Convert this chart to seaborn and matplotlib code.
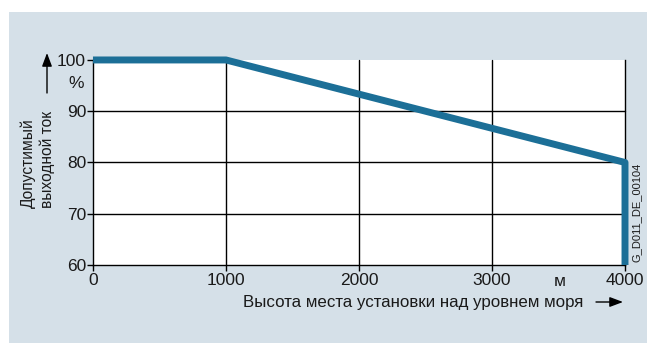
import matplotlib
matplotlib.use("Agg")
import matplotlib.pyplot as plt
import seaborn as sns
import pandas as pd

# Derating curve: permissible output current vs installation altitude
altitude_m = [0, 1000, 4000, 4000]
current_pct = [100, 100, 80, 60]
x_ticks = [0, 1000, 2000, 3000, 4000]
y_ticks = [60, 70, 80, 90, 100]

sns.set_theme(style="white")
plt.rcParams["font.family"] = ["Liberation Sans", "DejaVu Sans"]

bg = "#d5e0e8"
line_col = "#1c6f97"
txt = "#1a1a1a"

W, H = 647, 344
def fx(px):
    return px / W
def fy(py):
    return 1 - py / H

fig = plt.figure(figsize=(6.47, 3.44), dpi=100, facecolor="white")
# tinted panel behind the chart
fig.add_artist(matplotlib.patches.Rectangle(
    (fx(9), fy(343)), fx(647) - fx(9), fy(12) - fy(343),
    transform=fig.transFigure, facecolor=bg, edgecolor="none", zorder=0))

ax = fig.add_axes([0.1437, 0.2297, 0.8223, 0.596])
ax.set_facecolor("white")

df = pd.DataFrame({"alt": altitude_m, "cur": current_pct})
ax.grid(False)
for v in x_ticks[1:-1]:
    ax.axvline(v, color="black", lw=1.0, zorder=1)
for v in y_ticks[1:-1]:
    ax.axhline(v, color="black", lw=1.0, zorder=1)

sns.lineplot(data=df, x="alt", y="cur", sort=False, estimator=None, ax=ax,
             color=line_col, lw=5, solid_capstyle="butt", zorder=3)
for ln in ax.lines:
    ln.set_clip_on(False)

ax.set_xlim(0, 4000)
ax.set_ylim(60, 100)
ax.set_xticks(x_ticks)
ax.set_yticks(y_ticks)
ax.set_xticklabels([str(v) for v in x_ticks], fontsize=12.5)
ax.set_yticklabels([str(v) for v in y_ticks], fontsize=12.5)
ax.tick_params(axis="both", which="both", direction="out", length=4, width=1,
               color="black", pad=1, labelcolor=txt)
ax.tick_params(axis="x", bottom=True, pad=2)
ax.tick_params(axis="y", left=True)
ax.set_xlabel("")
ax.set_ylabel("")

for side in ["left", "bottom", "right"]:
    ax.spines[side].set_visible(True)
    ax.spines[side].set_color("black")
    ax.spines[side].set_linewidth(1)
ax.spines["top"].set_visible(False)

# Axis titles and annotations
fig.text(fx(560), fy(281), "м", fontsize=12.5, ha="center", va="center", color=txt)
fig.text(fx(413), fy(302), "Высота места установки над уровнем моря",
         fontsize=12.2, ha="center", va="center", color=txt)
fig.add_artist(matplotlib.patches.FancyArrowPatch(
    (fx(596), fy(302)), (fx(623), fy(302)), transform=fig.transFigure,
    arrowstyle="-|>,head_length=8,head_width=3", color="black", lw=1,
    shrinkA=0, shrinkB=0))

fig.text(fx(28), fy(208), "Допустимый", fontsize=11.2, rotation=90,
         ha="center", va="bottom", color=txt)
fig.text(fx(47), fy(208), "выходной ток", fontsize=11.2, rotation=90,
         ha="center", va="bottom", color=txt)
fig.add_artist(matplotlib.patches.FancyArrowPatch(
    (fx(47), fy(93)), (fx(47), fy(53)), transform=fig.transFigure,
    arrowstyle="-|>,head_length=8,head_width=3", color="black", lw=1,
    shrinkA=0, shrinkB=0))
fig.text(fx(76), fy(83), "%", fontsize=12.5, ha="center", va="center", color=txt)

fig.text(fx(637), fy(212), "G_D011_DE_00104", fontsize=8, rotation=90,
         ha="center", va="center", color=txt)

fig.savefig("out.png", dpi=100, facecolor="white")
